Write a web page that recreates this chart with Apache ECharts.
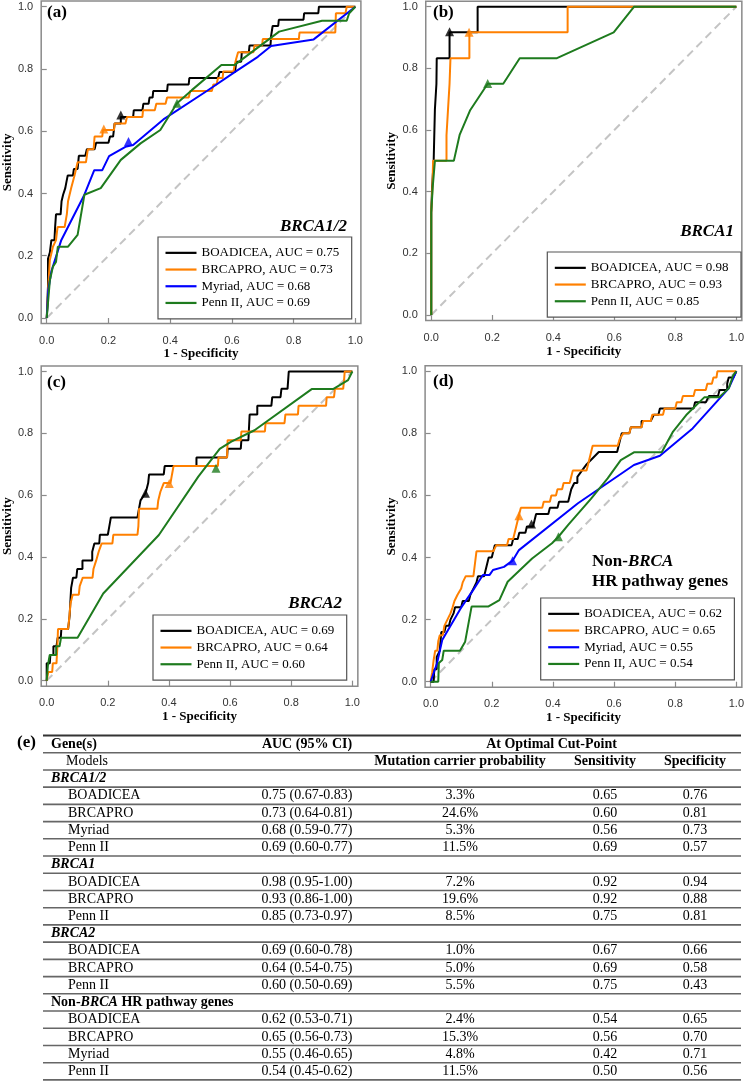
<!DOCTYPE html>
<html><head><meta charset="utf-8">
<script src="https://cdn.jsdelivr.net/npm/echarts@6/dist/echarts.min.js"></script>
<style>html,body{margin:0;padding:0;background:#fff}#c{width:747px;height:1082px}</style>
</head><body><div id="c"></div>
<script>
// ---------------- DATA ----------------
const tickValues = [0, 0.2, 0.4, 0.6, 0.8, 1.0];

// Panel (a) BRCA1/2
const a_models = ['BOADICEA', 'BRCAPRO', 'Myriad', 'Penn II'];
const a_auc = ['0.75', '0.73', '0.68', '0.69'];
const a_BOADICEA = [[0,0],[0.004,0.1],[0.004,0.19],[0.01,0.21],[0.015,0.25],[0.025,0.25],[0.027,0.29],[0.03,0.333],[0.045,0.333],[0.048,0.375],[0.053,0.396],[0.06,0.417],[0.064,0.438],[0.068,0.458],[0.085,0.458],[0.088,0.479],[0.1,0.479],[0.104,0.521],[0.125,0.521],[0.13,0.542],[0.155,0.542],[0.16,0.563],[0.2,0.563],[0.205,0.583],[0.215,0.583],[0.22,0.625],[0.24,0.625],[0.24,0.646],[0.28,0.646],[0.282,0.667],[0.31,0.667],[0.313,0.688],[0.33,0.688],[0.333,0.708],[0.343,0.708],[0.345,0.729],[0.39,0.729],[0.392,0.75],[0.46,0.75],[0.462,0.771],[0.555,0.771],[0.56,0.79],[0.61,0.79],[0.614,0.823],[0.63,0.823],[0.632,0.854],[0.655,0.854],[0.657,0.875],[0.725,0.875],[0.727,0.906],[0.732,0.938],[0.75,0.938],[0.752,0.958],[0.832,0.958],[0.834,0.979],[0.88,0.979],[0.882,1],[1,1]];
const a_BRCAPRO = [[0,0],[0.005,0.1],[0.01,0.186],[0.02,0.229],[0.03,0.25],[0.035,0.292],[0.058,0.292],[0.065,0.333],[0.069,0.375],[0.079,0.417],[0.09,0.458],[0.1,0.5],[0.127,0.5],[0.13,0.521],[0.133,0.542],[0.152,0.542],[0.155,0.583],[0.18,0.583],[0.182,0.604],[0.218,0.604],[0.22,0.625],[0.255,0.625],[0.26,0.646],[0.31,0.646],[0.312,0.667],[0.35,0.667],[0.355,0.688],[0.385,0.688],[0.39,0.708],[0.46,0.708],[0.465,0.729],[0.535,0.729],[0.54,0.75],[0.55,0.75],[0.555,0.771],[0.57,0.771],[0.572,0.792],[0.605,0.792],[0.609,0.813],[0.614,0.833],[0.62,0.854],[0.67,0.854],[0.673,0.875],[0.698,0.875],[0.7,0.896],[0.817,0.896],[0.819,0.917],[0.935,0.917],[0.937,0.979],[0.968,0.979],[0.972,1],[1,1]];
const a_Myriad = [[0,0],[0.005,0.09],[0.015,0.15],[0.047,0.25],[0.122,0.396],[0.154,0.475],[0.18,0.475],[0.202,0.52],[0.255,0.55],[0.28,0.556],[0.378,0.638],[0.52,0.73],[0.609,0.79],[0.684,0.839],[0.727,0.874],[0.865,0.895],[1,1]];
const a_PennII = [[0,0],[0.01,0.12],[0.02,0.165],[0.03,0.18],[0.036,0.229],[0.069,0.229],[0.1,0.267],[0.122,0.396],[0.175,0.417],[0.24,0.508],[0.304,0.561],[0.368,0.604],[0.422,0.69],[0.47,0.732],[0.566,0.813],[0.609,0.813],[0.753,0.92],[0.892,0.955],[0.972,0.955],[0.98,0.979],[1,1]];
const a_cutPoints = [[0.24,0.652],[0.185,0.607],[0.265,0.567],[0.422,0.69]];

// Panel (b) BRCA1
const b_models = ['BOADICEA', 'BRCAPRO', 'Penn II'];
const b_auc = ['0.98', '0.93', '0.85'];
const b_BOADICEA = [[0,0],[0,0.333],[0.003,0.333],[0.003,0.417],[0.008,0.417],[0.008,0.5],[0.01,0.5],[0.012,0.667],[0.016,0.667],[0.017,0.75],[0.018,0.833],[0.06,0.833],[0.06,0.917],[0.152,0.917],[0.152,1],[1,1]];
const b_BRCAPRO = [[0,0],[0,0.333],[0.004,0.417],[0.006,0.5],[0.05,0.5],[0.05,0.583],[0.055,0.583],[0.055,0.667],[0.058,0.667],[0.06,0.75],[0.063,0.75],[0.063,0.833],[0.125,0.833],[0.125,0.917],[0.447,0.917],[0.447,1],[1,1]];
const b_PennII = [[0,0],[0,0.333],[0.005,0.417],[0.012,0.5],[0.074,0.5],[0.093,0.584],[0.128,0.665],[0.185,0.75],[0.236,0.75],[0.29,0.833],[0.412,0.833],[0.598,0.917],[0.665,1],[1,1]];
const b_cutPoints = [[0.06,0.919],[0.124,0.917],[0.185,0.751]];

// Panel (c) BRCA2
const c_models = ['BOADICEA', 'BRCAPRO', 'Penn II'];
const c_auc = ['0.69', '0.64', '0.60'];
const c_BOADICEA = [[0,0],[0,0.056],[0.01,0.056],[0.012,0.083],[0.022,0.083],[0.022,0.111],[0.032,0.111],[0.036,0.139],[0.046,0.139],[0.048,0.167],[0.07,0.167],[0.075,0.21],[0.08,0.3],[0.086,0.333],[0.097,0.333],[0.1,0.361],[0.117,0.361],[0.117,0.389],[0.149,0.389],[0.149,0.417],[0.156,0.444],[0.172,0.444],[0.174,0.472],[0.2,0.472],[0.205,0.5],[0.21,0.528],[0.297,0.528],[0.302,0.556],[0.307,0.583],[0.324,0.608],[0.332,0.639],[0.335,0.667],[0.383,0.667],[0.386,0.694],[0.49,0.694],[0.49,0.722],[0.59,0.722],[0.592,0.75],[0.635,0.75],[0.637,0.778],[0.66,0.778],[0.664,0.861],[0.689,0.861],[0.689,0.889],[0.735,0.889],[0.738,0.917],[0.765,0.917],[0.768,0.944],[0.788,0.944],[0.792,1],[1,1]];
const c_BRCAPRO = [[0,0],[0.005,0.028],[0.018,0.028],[0.02,0.056],[0.032,0.056],[0.035,0.111],[0.037,0.167],[0.07,0.167],[0.073,0.194],[0.078,0.25],[0.085,0.278],[0.105,0.278],[0.108,0.306],[0.118,0.333],[0.15,0.333],[0.153,0.361],[0.162,0.389],[0.17,0.417],[0.18,0.444],[0.215,0.444],[0.218,0.472],[0.297,0.472],[0.3,0.5],[0.302,0.556],[0.362,0.556],[0.365,0.583],[0.372,0.611],[0.383,0.639],[0.405,0.639],[0.41,0.667],[0.415,0.694],[0.56,0.694],[0.562,0.722],[0.59,0.722],[0.592,0.778],[0.635,0.778],[0.637,0.806],[0.714,0.806],[0.716,0.833],[0.778,0.833],[0.781,0.861],[0.822,0.861],[0.824,0.889],[0.914,0.889],[0.916,0.917],[0.94,0.917],[0.943,0.944],[0.97,0.944],[0.973,0.972],[0.975,1],[1,1]];
const c_PennII = [[0,0],[0.004,0.05],[0.01,0.083],[0.031,0.083],[0.031,0.111],[0.042,0.111],[0.047,0.139],[0.101,0.139],[0.185,0.282],[0.367,0.471],[0.496,0.66],[0.566,0.75],[0.604,0.773],[0.68,0.81],[0.867,0.943],[0.937,0.943],[0.986,0.972],[1,1]];
const c_cutPoints = [[0.323,0.606],[0.401,0.638],[0.554,0.687]];

// Panel (d) Non-BRCA HR pathway genes
const d_models = ['BOADICEA', 'BRCAPRO', 'Myriad', 'Penn II'];
const d_auc = ['0.62', '0.65', '0.55', '0.54'];
const d_BOADICEA = [[0,0],[0.01,0],[0.012,0.04],[0.02,0.04],[0.02,0.08],[0.03,0.1],[0.035,0.16],[0.045,0.16],[0.05,0.18],[0.06,0.18],[0.065,0.2],[0.075,0.22],[0.08,0.24],[0.1,0.24],[0.105,0.26],[0.125,0.26],[0.13,0.28],[0.14,0.3],[0.15,0.32],[0.155,0.34],[0.175,0.34],[0.18,0.36],[0.185,0.38],[0.19,0.4],[0.2,0.4],[0.205,0.42],[0.21,0.44],[0.265,0.44],[0.27,0.46],[0.285,0.46],[0.29,0.48],[0.31,0.48],[0.315,0.5],[0.335,0.5],[0.34,0.52],[0.345,0.54],[0.385,0.54],[0.39,0.56],[0.415,0.56],[0.42,0.58],[0.45,0.58],[0.455,0.6],[0.46,0.62],[0.47,0.64],[0.48,0.64],[0.48,0.66],[0.495,0.68],[0.51,0.7],[0.53,0.72],[0.55,0.74],[0.61,0.74],[0.615,0.76],[0.62,0.78],[0.625,0.8],[0.65,0.8],[0.655,0.82],[0.69,0.82],[0.69,0.84],[0.72,0.84],[0.73,0.86],[0.745,0.86],[0.75,0.88],[0.86,0.88],[0.865,0.9],[0.9,0.9],[0.91,0.92],[0.94,0.92],[0.945,0.94],[0.97,0.94],[0.97,0.96],[0.975,0.98],[0.99,0.98],[1,1]];
const d_BRCAPRO = [[0,0],[0.005,0.03],[0.01,0.07],[0.015,0.1],[0.022,0.1],[0.025,0.13],[0.03,0.15],[0.04,0.15],[0.045,0.18],[0.055,0.2],[0.065,0.22],[0.072,0.24],[0.078,0.26],[0.088,0.28],[0.1,0.3],[0.105,0.32],[0.115,0.34],[0.14,0.34],[0.145,0.38],[0.15,0.42],[0.205,0.42],[0.215,0.44],[0.25,0.44],[0.255,0.46],[0.27,0.46],[0.275,0.48],[0.28,0.5],[0.285,0.52],[0.29,0.54],[0.295,0.56],[0.365,0.56],[0.37,0.58],[0.39,0.58],[0.395,0.6],[0.41,0.6],[0.415,0.62],[0.43,0.62],[0.435,0.64],[0.455,0.64],[0.46,0.66],[0.465,0.68],[0.51,0.68],[0.515,0.7],[0.52,0.72],[0.525,0.74],[0.53,0.76],[0.612,0.76],[0.618,0.78],[0.63,0.8],[0.65,0.8],[0.655,0.82],[0.69,0.82],[0.695,0.84],[0.72,0.84],[0.725,0.86],[0.76,0.86],[0.765,0.88],[0.8,0.88],[0.805,0.9],[0.82,0.9],[0.825,0.92],[0.86,0.92],[0.865,0.94],[0.9,0.94],[0.905,0.96],[0.92,0.96],[0.925,0.98],[0.935,0.98],[0.938,1],[1,1]];
const d_Myriad = [[0,0],[0.021,0.059],[0.038,0.134],[0.043,0.14],[0.102,0.242],[0.139,0.295],[0.171,0.344],[0.193,0.344],[0.204,0.36],[0.24,0.37],[0.268,0.39],[0.289,0.424],[0.482,0.575],[0.665,0.698],[0.75,0.728],[0.857,0.816],[0.975,0.945],[1,1]];
const d_PennII = [[0,0],[0.012,0],[0.025,0],[0.027,0.06],[0.038,0.07],[0.043,0.1],[0.096,0.1],[0.113,0.129],[0.134,0.242],[0.188,0.242],[0.225,0.263],[0.252,0.322],[0.332,0.397],[0.397,0.446],[0.418,0.467],[0.45,0.505],[0.525,0.59],[0.579,0.655],[0.622,0.714],[0.665,0.739],[0.756,0.739],[0.793,0.806],[0.836,0.859],[0.895,0.916],[0.943,0.916],[0.975,0.945],[0.99,0.988],[1,1]];
const d_cutPoints = [[0.33,0.508],[0.289,0.535],[0.268,0.39],[0.418,0.467]];

const panelTags = ['(a)', '(b)', '(c)', '(d)'];
const panelGenes = ['BRCA1/2', 'BRCA1', 'BRCA2', 'Non-BRCA\nHR pathway genes'];
const xAxisTitle = '1 - Specificity';
const yAxisTitle = 'Sensitivity';

// Table (e)
const tableTag = '(e)';
const tableHeader1 = ['Gene(s)', 'AUC (95% CI)', 'At Optimal Cut-Point'];
const tableHeader2 = ['Models', 'Mutation carrier probability', 'Sensitivity', 'Specificity'];
const geneGroups = ['BRCA1/2', 'BRCA1', 'BRCA2', 'Non-BRCA HR pathway genes'];
const groupModels = [['BOADICEA','BRCAPRO','Myriad','Penn II'],['BOADICEA','BRCAPRO','Penn II'],['BOADICEA','BRCAPRO','Penn II'],['BOADICEA','BRCAPRO','Myriad','Penn II']];
const aucCI = [['0.75 (0.67-0.83)','0.73 (0.64-0.81)','0.68 (0.59-0.77)','0.69 (0.60-0.77)'],['0.98 (0.95-1.00)','0.93 (0.86-1.00)','0.85 (0.73-0.97)'],['0.69 (0.60-0.78)','0.64 (0.54-0.75)','0.60 (0.50-0.69)'],['0.62 (0.53-0.71)','0.65 (0.56-0.73)','0.55 (0.46-0.65)','0.54 (0.45-0.62)']];
const carrierProb = [['3.3%','24.6%','5.3%','11.5%'],['7.2%','19.6%','8.5%'],['1.0%','5.0%','5.5%'],['2.4%','15.3%','4.8%','11.5%']];
const sensAtCut = [['0.65','0.60','0.56','0.69'],['0.92','0.92','0.75'],['0.67','0.69','0.75'],['0.54','0.56','0.42','0.50']];
const specAtCut = [['0.76','0.81','0.73','0.57'],['0.94','0.88','0.81'],['0.66','0.58','0.43'],['0.65','0.70','0.71','0.56']];

// ---------------- STYLE / LAYOUT ----------------
const SERIF = "'Liberation Serif','Times New Roman',serif";
const SANS = "'Liberation Sans',Arial,sans-serif";
const modelColor = {'BOADICEA':'#000000','BRCAPRO':'#FF8000','Myriad':'#0000FF','Penn II':'#1E7B1E'};
const PAD = 0.018;
const layout = [
  {grid:{left:37.7, top:1.1, width:323.2, height:322.5}, legend:[158,237], tag:[47,13], gene:[347,227,'right'], xGap:22, yGap:23.5},
  {grid:{left:425.75, top:1.15, width:319.5, height:319.4}, legend:[547.3,252], tag:[433,13], gene:[734,232,'right'], xGap:25, yGap:26},
  {grid:{left:37.74, top:365.93, width:320.1, height:320.3}, legend:[153,615], tag:[47,383], gene:[342,604,'right'], xGap:24, yGap:24},
  {grid:{left:425.1, top:365.7, width:322.2, height:321.6}, legend:[540.7,598], tag:[433,382], gene:[592,561.7,'left'], xGap:23, yGap:25.3}
];

const panels = [
  {models:a_models, auc:a_auc, curves:[a_BOADICEA,a_BRCAPRO,a_Myriad,a_PennII], cuts:a_cutPoints},
  {models:b_models, auc:b_auc, curves:[b_BOADICEA,b_BRCAPRO,b_PennII], cuts:b_cutPoints},
  {models:c_models, auc:c_auc, curves:[c_BOADICEA,c_BRCAPRO,c_PennII], cuts:c_cutPoints},
  {models:d_models, auc:d_auc, curves:[d_BOADICEA,d_BRCAPRO,d_Myriad,d_PennII], cuts:d_cutPoints}
];

function richify(s) {
  return ('{b|' + s.replace(/(BRCA[0-9\/]*)/g, '}{bi|$1}{b|') + '}').replace(/\{b\|\}/g, '');
}

const grids = [], xAxes = [], yAxes = [], series = [], legends = [], graphics = [];
panels.forEach((p, i) => {
  const L = layout[i];
  grids.push(Object.assign({show:true, borderColor:'#8a8a8a', borderWidth:1.5, backgroundColor:'#fff'}, L.grid));
  xAxes.push({
    type:'value', gridIndex:i, min:-PAD, max:1+PAD,
    axisLine:{show:false}, splitLine:{show:false},
    axisTick:{show:true, customValues:tickValues, length:6, lineStyle:{color:'#8a8a8a', width:1.2}},
    axisLabel:{customValues:tickValues, formatter:v=>v.toFixed(1), margin:11.5, fontFamily:SANS, fontSize:11, color:'#333'},
    name:xAxisTitle, nameLocation:'middle', nameGap:L.xGap,
    nameTextStyle:{fontFamily:SERIF, fontWeight:'bold', fontSize:13, color:'#000'}
  });
  yAxes.push({
    type:'value', gridIndex:i, min:-PAD, max:1+PAD,
    axisLine:{show:false}, splitLine:{show:false},
    axisTick:{show:true, customValues:tickValues, length:5, lineStyle:{color:'#8a8a8a', width:1.2}},
    axisLabel:{customValues:tickValues, formatter:v=>v.toFixed(1), margin:8, fontFamily:SANS, fontSize:11, color:'#333'},
    name:yAxisTitle, nameLocation:'middle', nameGap:L.yGap, nameRotate:90,
    nameTextStyle:{fontFamily:SERIF, fontWeight:'bold', fontSize:13, color:'#000'}
  });
  series.push({
    type:'line', xAxisIndex:i, yAxisIndex:i, data:[[0,0],[1,1]], showSymbol:false, silent:true, z:1,
    lineStyle:{color:'#c4c4c4', width:2, type:[8,5]}
  });
  const names = [];
  p.models.forEach((m, k) => {
    const nm = m + ', AUC = ' + p.auc[k];
    names.push(nm);
    series.push({
      type:'line', name:nm, xAxisIndex:i, yAxisIndex:i, data:p.curves[k], showSymbol:false, z:2,
      color:modelColor[m], itemStyle:{color:modelColor[m]}, lineStyle:{color:modelColor[m], width:2}
    });
  });
  p.models.forEach((m, k) => {
    series.push({
      type:'scatter', name:'cut ' + i + ' ' + m, xAxisIndex:i, yAxisIndex:i, data:[p.cuts[k]],
      symbol:'triangle', symbolSize:9, z:3, itemStyle:{color:modelColor[m]}
    });
  });
  legends.push({
    orient:'vertical', left:L.legend[0], top:L.legend[1], data:names, icon:'rect',
    itemWidth:31, itemHeight:2.2, itemGap:0, padding:[7.5,12.5,7.5,7.5],
    borderColor:'#555', borderWidth:1.2, backgroundColor:'#fff', selectedMode:false,
    textStyle:{fontFamily:SERIF, fontSize:13, color:'#000', lineHeight:16.7}
  });
  graphics.push({type:'text', x:L.tag[0], y:L.tag[1], z:10,
    style:{text:panelTags[i], font:"bold 17px " + SERIF, fill:'#000', align:'left', verticalAlign:'middle'}});
  panelGenes[i].split('\n').forEach((line, j) => {
    graphics.push({type:'text', x:L.gene[0], y:L.gene[1] + j * 20.3, z:10,
      style:{text:richify(line), align:L.gene[2], verticalAlign:'middle',
        rich:{b:{font:"bold 17px " + SERIF, fill:'#000'}, bi:{font:"italic bold 17px " + SERIF, fill:'#000'}}}});
  });
});

// ---- Table (e) ----
const T = {top:735.5, rowH:17.22, left:43, right:741, c1:51, cModel:68, cModels:66, c2:307, c3:460, c4:605, c5:695, cHead:551.5};
const tfont = "14px " + SERIF, tbold = "bold 14px " + SERIF;
function tText(txt, x, y, align, font, rich) {
  const st = {text:txt, font:font, fill:'#000', align:align, verticalAlign:'middle'};
  if (rich) st.rich = rich;
  graphics.push({type:'text', x:x, y:y, z:10, style:st});
}
const rowY = r => T.top + T.rowH * (r + 0.5);
graphics.push({type:'text', x:17, y:743, z:10, style:{text:tableTag, font:"bold 17px " + SERIF, fill:'#000', align:'left', verticalAlign:'middle'}});
tText(tableHeader1[0], T.c1, rowY(0), 'left', tbold);
tText(tableHeader1[1], T.c2, rowY(0), 'center', tbold);
tText(tableHeader1[2], T.cHead, rowY(0), 'center', tbold);
tText(tableHeader2[0], T.cModels, rowY(1), 'left', tfont);
tText(tableHeader2[1], T.c3, rowY(1), 'center', tbold);
tText(tableHeader2[2], T.c4, rowY(1), 'center', tbold);
tText(tableHeader2[3], T.c5, rowY(1), 'center', tbold);
let r = 2;
geneGroups.forEach((g, gi) => {
  tText(richify(g), T.c1, rowY(r), 'left', tbold, {b:{font:tbold, fill:'#000'}, bi:{font:"italic bold 14px " + SERIF, fill:'#000'}});
  r++;
  groupModels[gi].forEach((m, k) => {
    tText(m, T.cModel, rowY(r), 'left', tfont);
    tText(aucCI[gi][k], T.c2, rowY(r), 'center', tfont);
    tText(carrierProb[gi][k], T.c3, rowY(r), 'center', tfont);
    tText(sensAtCut[gi][k], T.c4, rowY(r), 'center', tfont);
    tText(specAtCut[gi][k], T.c5, rowY(r), 'center', tfont);
    r++;
  });
});
for (let k = 0; k <= r; k++) {
  const y = T.top + T.rowH * k;
  graphics.push({type:'line', z:9, shape:{x1:T.left, y1:y, x2:T.right, y2:y},
    style:{stroke: k === 0 ? '#333' : '#666', lineWidth: k === 0 ? 1.8 : 1.6}});
}

const chart = echarts.init(document.getElementById('c'), null, {renderer:'canvas'});
chart.setOption({
  animation:false,
  backgroundColor:'#fff',
  grid:grids, xAxis:xAxes, yAxis:yAxes, legend:legends, series:series, graphic:graphics
});
</script></body></html>
